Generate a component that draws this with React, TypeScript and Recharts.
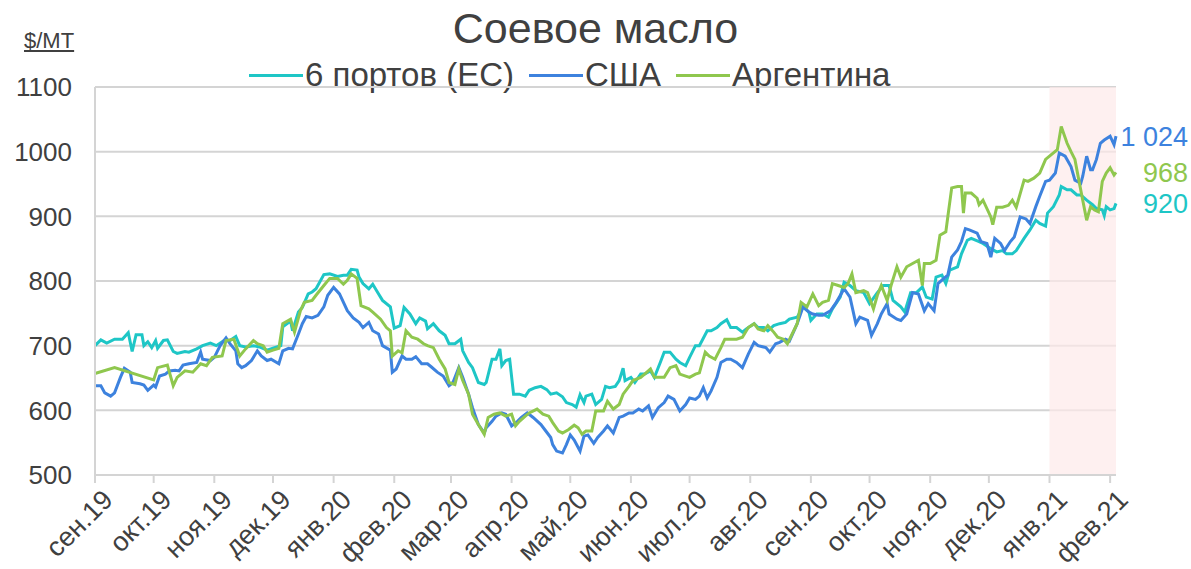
import React from "react";
import {
  LineChart,
  Line,
  XAxis,
  YAxis,
  CartesianGrid,
  ReferenceArea,
} from "recharts";

// дни от 1 сен. 2019, цена $/MT
const monthDays = [0, 30, 61, 91, 122, 153, 182, 213, 243, 274, 304, 335, 366, 396, 427, 457, 488, 519];
const monthLabels = [
  "сен.19", "окт.19", "ноя.19", "дек.19", "янв.20", "фев.20", "мар.20", "апр.20", "май.20",
  "июн.20", "июл.20", "авг.20", "сен.20", "окт.20", "ноя.20", "дек.20", "янв.21", "фев.21",
];
const yTicks = [500, 600, 700, 800, 900, 1000, 1100];

const euPorts: [number, number][] = [
  [0, 700], [3, 709], [6, 704], [10, 710], [14, 710], [17, 720], [19, 691], [21, 717], [24, 717], [25, 700],
  [27, 706], [29, 697], [31, 708], [32, 696], [35, 708], [37, 709], [40, 691], [42, 688], [46, 691], [48, 690],
  [52, 695], [55, 700], [59, 704], [62, 700], [66, 708], [69, 708], [72, 714], [74, 700], [77, 698], [81, 700],
  [84, 698], [88, 693], [91, 696], [95, 700], [96, 729], [100, 738], [101, 723], [104, 752], [106, 759], [109, 780],
  [111, 783], [113, 788], [117, 810], [120, 811], [124, 807], [127, 809], [129, 809], [131, 818], [134, 817], [135, 806],
  [137, 796], [140, 788], [142, 795], [145, 780], [147, 770], [151, 760], [153, 727], [156, 731], [158, 759], [161, 749],
  [164, 734], [166, 743], [169, 738], [170, 726], [173, 734], [176, 723], [179, 716], [181, 703], [184, 703], [187, 710],
  [188, 692], [191, 674], [193, 666], [196, 643], [199, 640], [200, 643], [203, 679], [205, 679], [207, 695], [208, 669],
  [210, 677], [212, 679], [214, 625], [217, 625], [220, 622], [222, 631], [225, 635], [228, 637], [231, 632], [233, 625],
  [236, 627], [239, 621], [241, 612], [244, 609], [246, 605], [248, 624], [250, 612], [251, 622], [254, 625], [256, 609],
  [259, 617], [261, 637], [263, 635], [266, 637], [268, 646], [270, 665], [271, 646], [274, 651], [276, 643], [279, 656],
  [281, 656], [284, 661], [286, 651], [289, 674], [291, 690], [294, 690], [297, 679], [299, 674], [302, 669], [304, 682],
  [307, 700], [309, 700], [313, 723], [315, 723], [318, 728], [320, 734], [323, 740], [325, 728], [328, 728], [331, 721],
  [333, 726], [337, 734], [339, 728], [342, 728], [344, 723], [347, 731], [350, 734], [353, 736], [355, 741], [359, 744],
  [362, 760], [365, 752], [366, 739], [369, 749], [372, 749], [375, 744], [377, 757], [381, 775], [383, 798], [386, 793],
  [389, 785], [393, 782], [396, 765], [400, 782], [403, 793], [406, 793], [408, 770], [412, 760], [414, 752], [417, 782],
  [420, 782], [423, 791], [425, 775], [428, 772], [430, 806], [433, 809], [435, 796], [437, 817], [441, 822], [443, 842],
  [446, 863], [448, 866], [452, 861], [454, 858], [458, 850], [461, 845], [464, 847], [466, 842], [469, 842], [471, 847],
  [475, 866], [478, 879], [481, 894], [483, 889], [486, 885], [487, 905], [490, 915], [493, 933], [494, 946], [497, 941],
  [499, 941], [502, 933], [504, 933], [507, 925], [510, 918], [512, 912], [515, 910], [516, 901], [517, 915], [519, 910],
  [521, 912], [522, 920],
];

const usa: [number, number][] = [
  [0, 638], [3, 638], [5, 627], [8, 622], [10, 627], [13, 651], [15, 665], [18, 659], [19, 643], [23, 641],
  [25, 639], [27, 631], [30, 639], [31, 636], [33, 653], [36, 656], [38, 661], [41, 662], [43, 661], [45, 670],
  [48, 672], [52, 674], [54, 690], [55, 679], [59, 677], [61, 682], [64, 700], [67, 712], [69, 703], [72, 692],
  [73, 672], [75, 666], [77, 669], [80, 677], [83, 692], [85, 684], [88, 677], [90, 679], [94, 672], [96, 692],
  [99, 696], [101, 695], [104, 718], [106, 734], [108, 745], [111, 743], [114, 747], [117, 760], [119, 778], [122, 790],
  [125, 780], [129, 754], [132, 743], [135, 736], [137, 728], [140, 736], [142, 723], [145, 718], [147, 700], [151, 693],
  [152, 659], [154, 664], [157, 684], [159, 679], [162, 679], [164, 683], [167, 672], [170, 672], [172, 667], [175, 659],
  [178, 653], [181, 638], [183, 643], [186, 666], [188, 651], [191, 625], [193, 604], [196, 578], [199, 565], [200, 573],
  [203, 583], [205, 591], [208, 596], [210, 594], [213, 576], [216, 583], [218, 589], [221, 596], [224, 589], [228, 578],
  [230, 570], [233, 558], [234, 547], [236, 537], [239, 534], [241, 547], [243, 562], [245, 554], [248, 537], [250, 560],
  [252, 562], [255, 549], [257, 558], [260, 568], [262, 576], [265, 565], [268, 589], [270, 591], [273, 596], [275, 596],
  [278, 602], [280, 599], [283, 607], [285, 589], [288, 604], [291, 612], [293, 622], [296, 617], [299, 599], [302, 609],
  [304, 619], [307, 617], [309, 622], [311, 635], [313, 619], [315, 630], [318, 651], [320, 674], [323, 679], [325, 679],
  [328, 674], [331, 666], [334, 687], [337, 705], [339, 700], [343, 697], [345, 690], [348, 703], [350, 705], [353, 710],
  [355, 707], [359, 734], [362, 760], [365, 752], [367, 749], [370, 747], [372, 747], [376, 754], [379, 767], [383, 788],
  [386, 775], [389, 734], [391, 744], [395, 739], [397, 716], [400, 734], [402, 749], [405, 765], [406, 749], [410, 741],
  [412, 739], [415, 749], [418, 782], [421, 780], [424, 754], [426, 765], [429, 754], [431, 796], [434, 804], [436, 809],
  [438, 837], [441, 848], [443, 861], [445, 881], [447, 879], [451, 874], [453, 861], [456, 858], [458, 837], [460, 866],
  [463, 858], [465, 847], [468, 861], [470, 868], [473, 899], [476, 896], [478, 889], [481, 915], [483, 931], [486, 954],
  [488, 956], [491, 967], [493, 998], [496, 993], [499, 977], [501, 956], [504, 951], [505, 962], [507, 993], [509, 972],
  [510, 972], [512, 988], [514, 1013], [516, 1018], [519, 1024], [521, 1011], [522, 1024],
];

const argentina: [number, number][] = [
  [0, 657], [10, 666], [30, 647], [32, 666], [37, 670], [40, 638], [42, 651], [46, 661], [50, 659], [54, 672],
  [57, 669], [60, 682], [65, 684], [67, 708], [71, 710], [74, 684], [77, 695], [81, 708], [83, 703], [86, 700],
  [88, 690], [91, 693], [94, 696], [96, 734], [100, 741], [102, 721], [105, 754], [107, 767], [111, 770], [113, 778],
  [117, 793], [120, 804], [124, 804], [127, 795], [129, 801], [131, 811], [134, 804], [136, 762], [140, 757], [142, 752],
  [146, 741], [149, 728], [151, 723], [152, 684], [155, 692], [157, 689], [159, 723], [162, 713], [165, 710], [168, 703],
  [170, 700], [173, 697], [176, 679], [179, 664], [181, 643], [184, 640], [186, 664], [188, 646], [191, 625], [193, 594],
  [196, 578], [199, 563], [201, 589], [204, 594], [207, 596], [210, 591], [213, 594], [215, 576], [217, 583], [220, 591],
  [222, 596], [226, 602], [229, 594], [232, 591], [234, 581], [237, 568], [239, 565], [242, 570], [245, 577], [247, 573],
  [249, 563], [251, 568], [254, 568], [256, 599], [260, 599], [262, 614], [265, 602], [268, 609], [270, 625], [273, 637],
  [275, 646], [279, 651], [281, 656], [284, 664], [286, 651], [289, 651], [291, 651], [294, 666], [297, 669], [299, 656],
  [302, 653], [304, 651], [307, 656], [309, 658], [312, 690], [314, 684], [317, 679], [320, 697], [322, 710], [325, 710],
  [328, 710], [331, 713], [334, 728], [337, 734], [339, 726], [342, 723], [344, 731], [347, 721], [349, 713], [352, 710],
  [354, 703], [359, 734], [361, 767], [364, 760], [367, 780], [370, 762], [372, 767], [375, 770], [377, 796], [380, 793],
  [383, 790], [385, 796], [387, 811], [389, 782], [393, 785], [395, 782], [398, 757], [400, 778], [402, 793], [405, 770],
  [407, 793], [410, 822], [412, 806], [415, 822], [418, 827], [421, 832], [423, 793], [424, 827], [427, 827], [430, 832],
  [432, 871], [435, 876], [436, 899], [438, 944], [441, 946], [443, 946], [444, 905], [445, 936], [448, 936], [451, 928],
  [452, 918], [454, 925], [458, 899], [459, 887], [461, 914], [464, 914], [467, 917], [469, 925], [471, 914], [475, 956],
  [477, 954], [480, 959], [483, 967], [486, 988], [488, 993], [492, 1003], [494, 1039], [497, 1013], [499, 1000], [501, 988],
  [503, 956], [505, 925], [507, 894], [509, 915], [511, 910], [513, 907], [515, 954], [517, 967], [519, 975], [521, 964],
  [522, 968],
];

const series = [
  { name: "6 портов (ЕС)", color: "#1ec6c6", points: euPorts },
  { name: "США", color: "#3d82de", points: usa },
  { name: "Аргентина", color: "#8fc74e", points: argentina },
];

const textColor = "#404040";
const gridColor = "#d4d4d4";
const font = "'Liberation Sans', Arial, Helvetica, sans-serif";

const fmt = (v: number) => (v >= 1000 ? `${Math.floor(v / 1000)} ${String(v % 1000).padStart(3, "0")}` : String(v));

const XTick = (props: any) => {
  const { x, y, payload } = props;
  const label = monthLabels[monthDays.indexOf(payload.value)] ?? "";
  return (
    <g transform={`translate(${x + 6},${y + 3}) rotate(-45)`}>
      <text textAnchor="end" dy="0.7em" fill={textColor} fontSize={27} fontFamily={font}>
        {label}
      </text>
    </g>
  );
};

// подпись последней точки справа от графика
const endLabel = (color: string, count: number) => (props: any) => {
  const { y, index, value } = props;
  if (index !== count - 1) return null;
  return (
    <text x={1188} y={y} dy="0.35em" textAnchor="end" fill={color} fontSize={27} fontFamily={font}>
      {fmt(Array.isArray(value) ? value[1] : value)}
    </text>
  );
};

export default function App() {
  return (
    <div style={{ position: "absolute", left: 0, top: 0, width: 1191, height: 569, background: "#fff", fontFamily: font }}>
      <div style={{ position: "absolute", top: 4, left: 0, width: 1191, textAlign: "center", fontSize: 43, color: textColor }}>
        Соевое масло
      </div>
      <div style={{ position: "absolute", top: 28, left: 24, fontSize: 22, color: textColor, textDecoration: "underline" }}>
        $/MT
      </div>
      <div
        style={{
          position: "absolute", top: 56, left: 249, display: "flex", gap: 15,
          fontSize: 33, color: textColor, lineHeight: "38px",
        }}
      >
        {series.map((s) => (
          <div key={s.name} style={{ display: "flex", alignItems: "center" }}>
            <span style={{ display: "inline-block", width: 54, height: 3, background: s.color, marginRight: 2 }} />
            <span>{s.name}</span>
          </div>
        ))}
      </div>
      <LineChart width={1191} height={569} margin={{ top: 87, right: 75, bottom: 0, left: 0 }}>
        <CartesianGrid vertical={false} stroke={gridColor} strokeWidth={2} />
        <ReferenceArea x1={488} x2={522} y1={500} y2={1100} fill="#fde9e9" fillOpacity={0.7} stroke="none" />
        <XAxis
          dataKey="day"
          type="number"
          domain={[0, 522]}
          ticks={monthDays}
          interval={0}
          height={94}
          tick={<XTick />}
          tickSize={8}
          stroke={gridColor}
          axisLine={{ stroke: gridColor, strokeWidth: 2 }}
          tickLine={{ stroke: gridColor, strokeWidth: 2 }}
          allowDuplicatedCategory={false}
        />
        <YAxis
          type="number"
          domain={[500, 1100]}
          ticks={yTicks}
          width={95}
          tickLine={false}
          tickMargin={17}
          axisLine={{ stroke: gridColor, strokeWidth: 2 }}
          tick={{ fill: textColor, fontSize: 26, fontFamily: font }}
        />
        {series.map((s) => {
          const data = s.points.map(([day, value]) => ({ day, value }));
          return (
            <Line
              key={s.name}
              name={s.name}
              data={data}
              dataKey="value"
              type="linear"
              stroke={s.color}
              strokeWidth={3}
              dot={false}
              activeDot={false}
              isAnimationActive={false}
              label={endLabel(s.color, data.length)}
            />
          );
        })}
      </LineChart>
    </div>
  );
}
